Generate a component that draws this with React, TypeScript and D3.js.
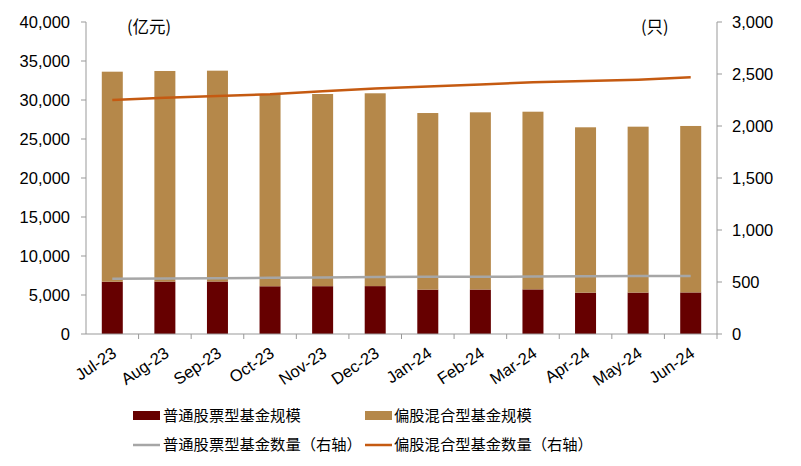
import React from "react";
import * as d3 from "d3";

const months = ["Jul-23","Aug-23","Sep-23","Oct-23","Nov-23","Dec-23","Jan-24","Feb-24","Mar-24","Apr-24","May-24","Jun-24"];
const stockScale = [6700,6720,6730,6120,6130,6140,5690,5700,5720,5300,5310,5330];
const hybridScale = [26930,27000,27030,24610,24640,24720,22640,22720,22780,21200,21270,21340];
const stockCount = [532,534,536,540,543,548,550,551,552,555,557,558];
const hybridCount = [2250,2272,2288,2305,2334,2360,2380,2400,2420,2433,2445,2468];
const leftTicks = [0,5000,10000,15000,20000,25000,30000,35000,40000];
const rightTicks = [0,500,1000,1500,2000,2500,3000];

const W = 801, H = 466;
const left = 86, right = 717, top = 22, bottom = 334;
const C_STOCK = "#660000";
const C_HYB = "#B5884A";
const C_GRAY = "#A6A6A6";
const C_ORANGE = "#C55A11";
const FONT = "Liberation Sans, Arial, sans-serif";
const CJK = "Noto Sans CJK SC, sans-serif";

export default function App() {
  const xb = d3.scaleBand<string>().domain(months).range([left, right]);
  const yL = d3.scaleLinear().domain([0, 40000]).range([bottom, top]);
  const yR = d3.scaleLinear().domain([0, 3000]).range([bottom, top]);
  const fmt = d3.format(",");
  const cx = (m: string) => (xb(m) as number) + xb.bandwidth() / 2;
  const lineR = d3.line<number>().x((_, i) => cx(months[i])).y(v => yR(v));
  const bw = 21;
  return (
    <svg width={W} height={H} style={{ position: "absolute", left: 0, top: 0, background: "#fff" }}>
      {months.map((m, i) => (
        <g key={m}>
          <rect x={cx(m) - bw / 2} y={yL(stockScale[i])} width={bw} height={yL(0) - yL(stockScale[i])} fill={C_STOCK} />
          <rect x={cx(m) - bw / 2} y={yL(stockScale[i] + hybridScale[i])} width={bw} height={yL(stockScale[i]) - yL(stockScale[i] + hybridScale[i])} fill={C_HYB} />
        </g>
      ))}
      <path d={lineR(stockCount) as string} fill="none" stroke={C_GRAY} strokeWidth={2.5} />
      <path d={lineR(hybridCount) as string} fill="none" stroke={C_ORANGE} strokeWidth={2.5} />
      <line x1={left} x2={left} y1={top} y2={bottom} stroke="#999" strokeWidth={1} />
      {leftTicks.map(t => (
        <g key={"l" + t}>
          <line x1={left - 5} x2={left} y1={yL(t)} y2={yL(t)} stroke="#999" />
          <text x={left - 16} y={yL(t)} dy="0.35em" textAnchor="end" fontFamily={FONT} fontSize={16.5} fill="#000">{fmt(t)}</text>
        </g>
      ))}
      <line x1={right} x2={right} y1={top} y2={bottom} stroke="#999" />
      {rightTicks.map(t => (
        <g key={"r" + t}>
          <line x1={right} x2={right + 5} y1={yR(t)} y2={yR(t)} stroke="#999" />
          <text x={right + 15} y={yR(t)} dy="0.35em" textAnchor="start" fontFamily={FONT} fontSize={16.5} fill="#000">{fmt(t)}</text>
        </g>
      ))}
      <line x1={left} x2={right} y1={bottom} y2={bottom} stroke="#999" />
      {months.map(m => (
        <line key={"xt" + m} x1={(xb(m) as number) + xb.bandwidth()} x2={(xb(m) as number) + xb.bandwidth()} y1={bottom} y2={bottom + 5} stroke="#999" />
      ))}
      {months.map(m => (
        <text key={"xl" + m} transform={`translate(${cx(m) + 2},${bottom + 17}) rotate(-34)`} textAnchor="end" dy="0.35em" fontFamily={FONT} fontSize={16.5} fill="#000">{m}</text>
      ))}
      <text x={127} y={33} fontFamily={CJK} fontSize={16.5} fill="#000">(亿元)</text>
      <text x={641} y={33} fontFamily={CJK} fontSize={16.5} fill="#000">(只)</text>
      <rect x={133} y={411} width={27} height={9} fill={C_STOCK} />
      <text x={163} y={416} dy="0.35em" fontFamily={CJK} fontSize={15.3} fill="#000">普通股票型基金规模</text>
      <rect x={365} y={411} width={27} height={9} fill={C_HYB} />
      <text x={394} y={416} dy="0.35em" fontFamily={CJK} fontSize={15.3} fill="#000">偏股混合型基金规模</text>
      <line x1={133} x2={160} y1={445} y2={445} stroke={C_GRAY} strokeWidth={2.5} />
      <text x={163} y={445} dy="0.35em" fontFamily={CJK} fontSize={15.3} fill="#000">普通股票型基金数量（右轴）</text>
      <line x1={365} x2={392} y1={445} y2={445} stroke={C_ORANGE} strokeWidth={2.5} />
      <text x={394} y={445} dy="0.35em" fontFamily={CJK} fontSize={15.3} fill="#000">偏股混合型基金数量（右轴）</text>
    </svg>
  );
}
